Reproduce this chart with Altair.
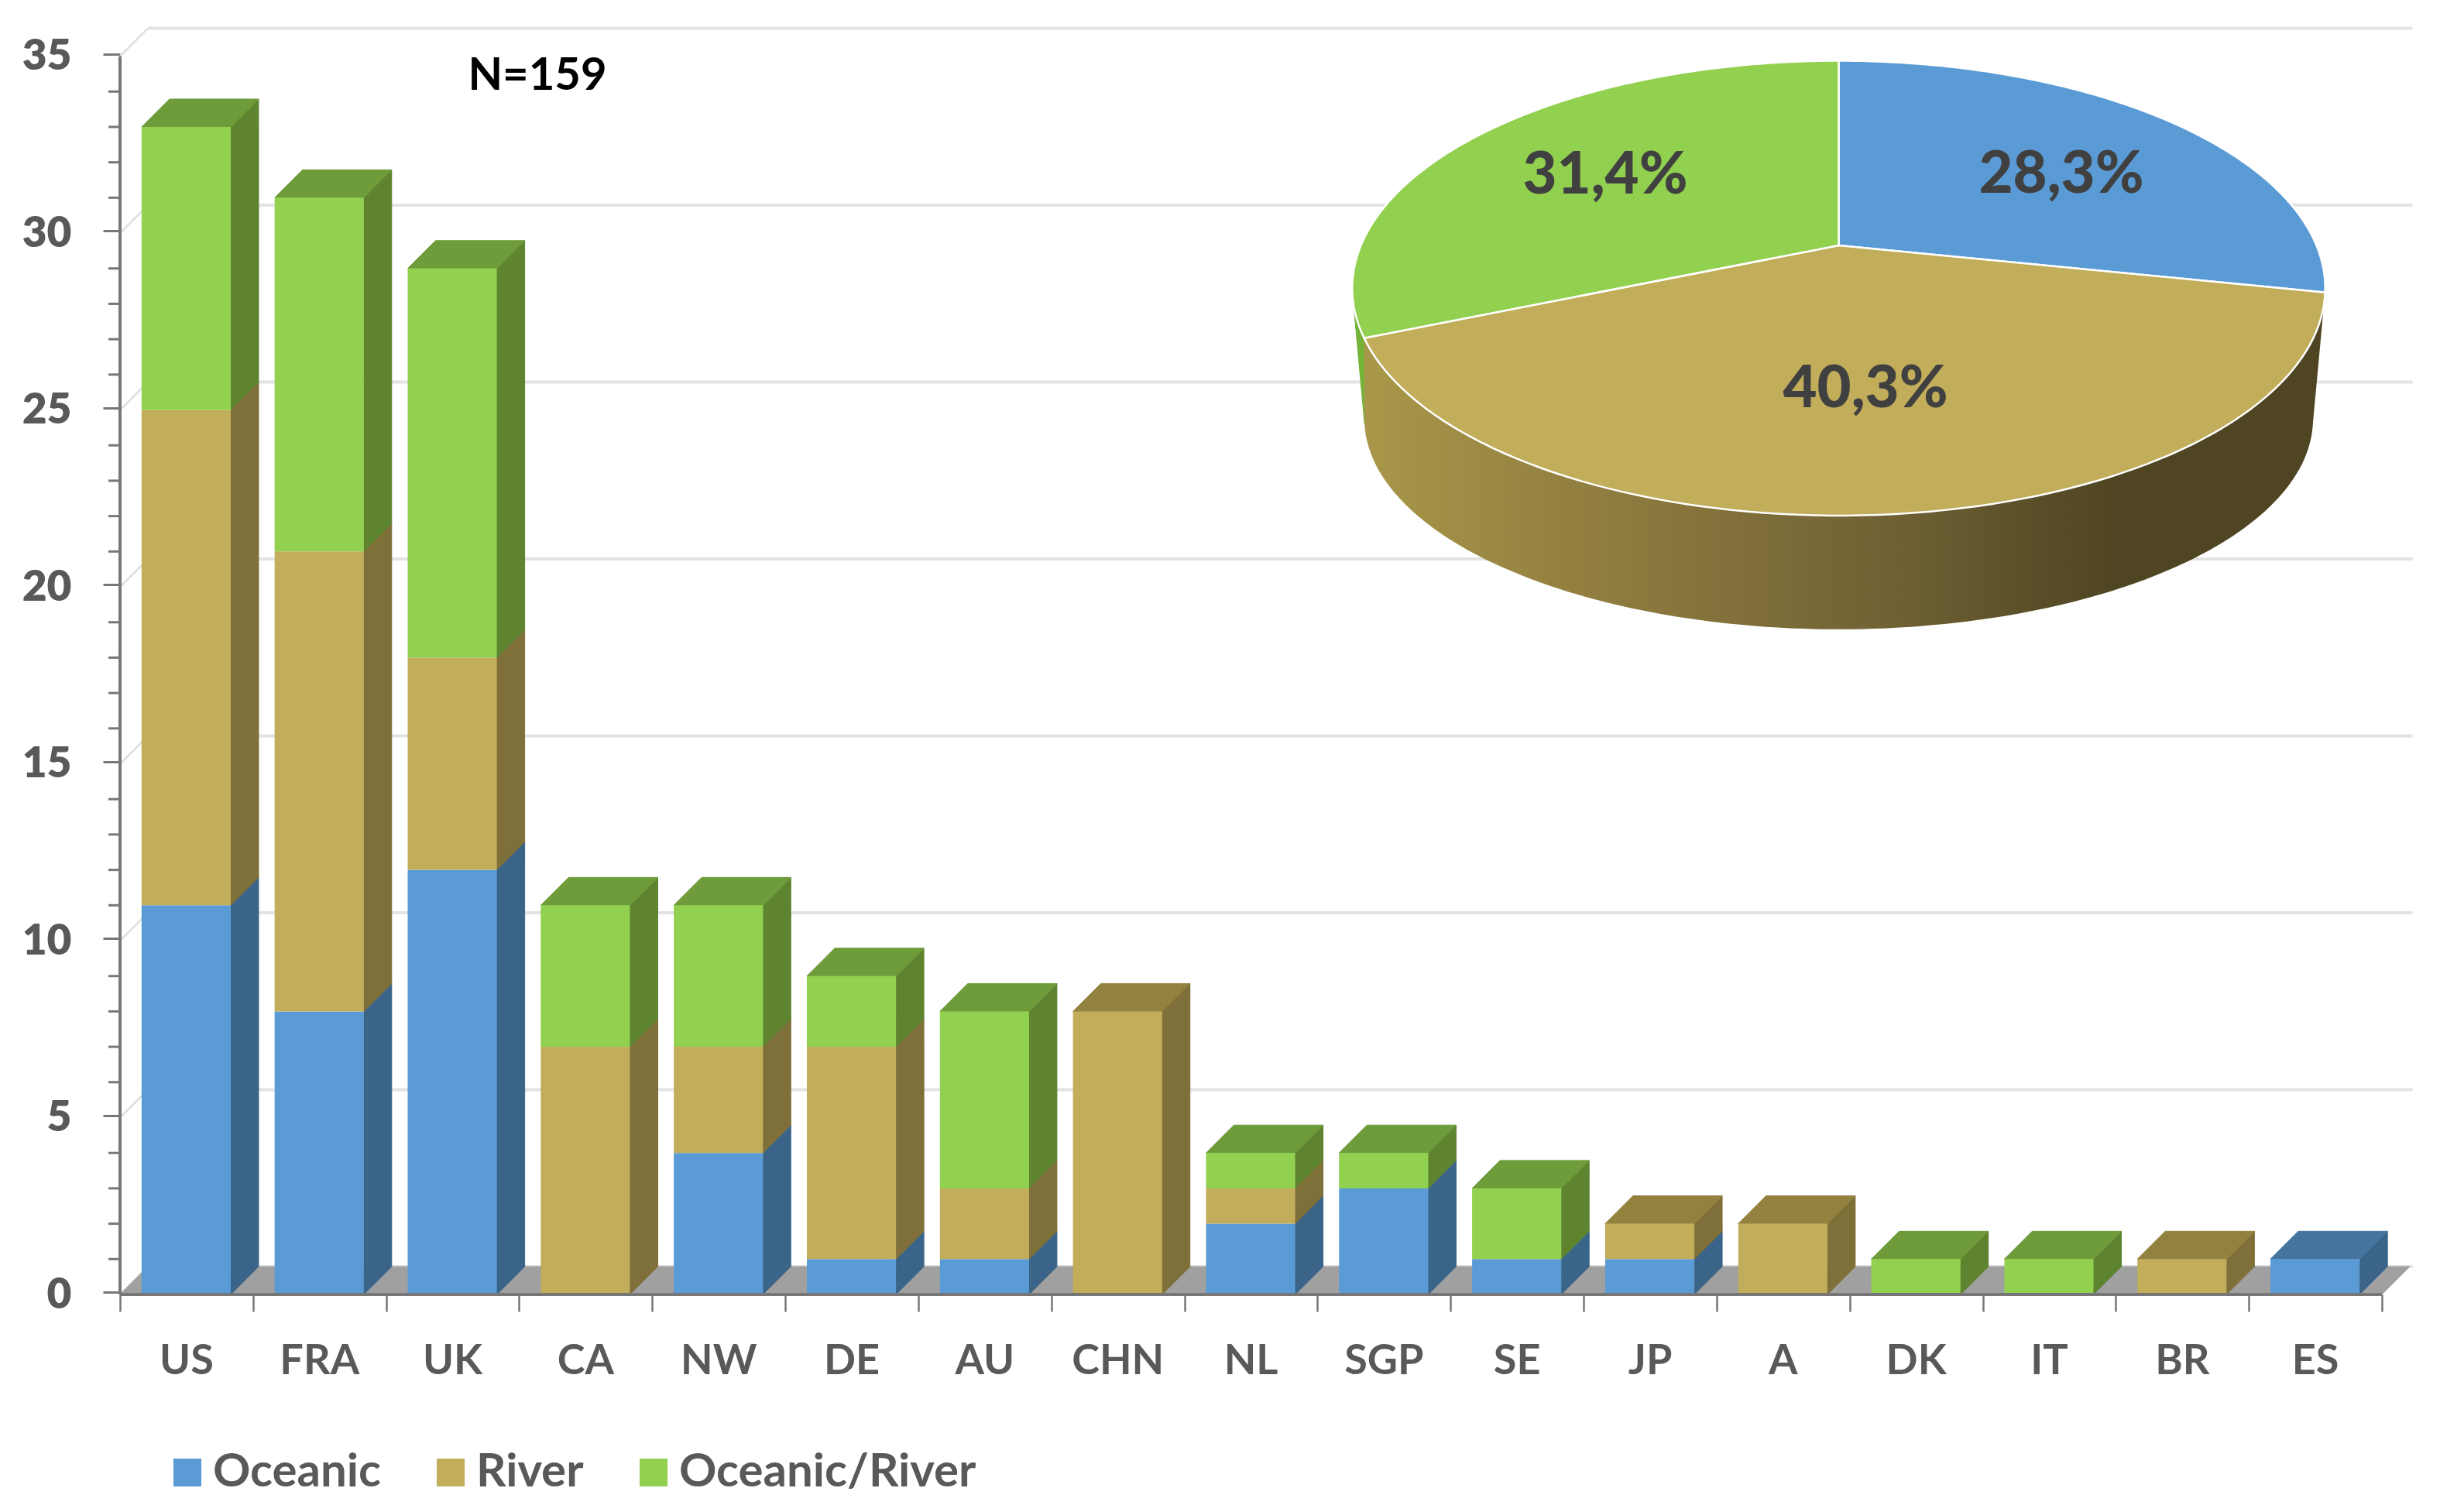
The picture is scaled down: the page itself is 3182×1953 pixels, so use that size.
import math
import altair as alt
import pandas as pd

countries = ["US","FRA","UK","CA","NW","DE","AU","CHN","NL","SGP","SE","JP","A","DK","IT","BR","ES"]
oceanic   = [11,8,12,0,4,1,1,0,2,3,1,1,0,0,0,0,1]
river     = [14,13,6,7,3,6,2,8,1,0,0,1,2,0,0,1,0]
both      = [8,10,11,4,4,2,5,0,1,1,2,0,0,1,1,0,0]
series_names = ["Oceanic","River","Oceanic/River"]
pie_shares = [28.3,40.3,31.4]
pie_labels = ["28,3%","40,3%","31,4%"]
y_major = [0,5,10,15,20,25,30,35]
y_minor = [v for v in range(36) if v % 5]

FRONT = ["#5b9bd5","#c2ad5b","#92d050"]
SIDE  = ["#3a6488","#7f6f38","#5e8430"]
TOP   = ["#45759f","#93813f","#6f9c3b"]
GRID, AXIS, TXT = "#e3e3e3", "#777777", "#595959"
FONT = "Lato"

W, H = 2964, 1636
XMAX, YMAX = 17.25, 35.8
ux, uy = W/XMAX, H/YMAX
X0, Y0 = 155, 1672            # pixel of data origin in the reference
DX, DY = 36/ux, 36/uy         # depth of the 3-D extrusion in data units
BAR_L, BAR_W = 0.162, 0.67

def to_x(px): return (px-X0)/ux
def to_y(py): return (Y0-py)/uy

xs = alt.Scale(domain=[0,XMAX], nice=False)
ys = alt.Scale(domain=[0,YMAX], nice=False)

# ---- stacked segments -------------------------------------------------
rows, faces = [], []
def poly(store, pid, pts, color):
    pts = list(pts)+[pts[0]]
    for k,(a,b) in enumerate(pts):
        store.append(dict(pid=pid, ord=k, px=a, py=b, col=color))

for i,c in enumerate(countries):
    base = 0
    vals = [oceanic[i], river[i], both[i]]
    last = max(j for j,v in enumerate(vals) if v>0)
    l, r = i+BAR_L, i+BAR_L+BAR_W
    for j,v in enumerate(vals):
        if v == 0: continue
        top = base+v
        rows.append(dict(country=c, series=series_names[j], x=l, x2=r, y=base, y2=top))
        poly(faces, f"s{i}{j}", [(r,base),(r+DX,base+DY),(r+DX,top+DY),(r,top)], SIDE[j])
        if j == last:
            poly(faces, f"t{i}{j}", [(l,top),(r,top),(r+DX,top+DY),(l+DX,top+DY)], TOP[j])
        base = top
bars = pd.DataFrame(rows)

def polys(data, **kw):
    return alt.Chart(pd.DataFrame(data)).mark_line(strokeWidth=1, **kw).encode(
        x=alt.X("px:Q", scale=xs, axis=None),
        y=alt.Y("py:Q", scale=ys, axis=None),
        detail="pid:N", order="ord:Q",
        fill=alt.Fill("col:N", scale=None, legend=None),
        stroke=alt.Stroke("col:N", scale=None, legend=None))

# ---- walls, floor, axes ----------------------------------------------
floor = []
poly(floor, "floor", [(0,0),(17,0),(17+DX,DY),(DX,DY)], "#a0a0a0")

grid_df = pd.DataFrame(dict(v=y_major))
grid_df["a"] = DX; grid_df["b"] = 17.23; grid_df["yy"] = grid_df.v+DY; grid_df["z"] = 0.0

axis_x = alt.Chart(grid_df).mark_rule(color=GRID, strokeWidth=4).encode(
    x=alt.X("a:Q", scale=xs, axis=alt.Axis(values=list(range(18)), labels=False, title=None, domain=False,
            grid=False, tickSize=22, tickWidth=2.5, tickColor=AXIS)),
    x2="b:Q",
    y=alt.Y("yy:Q", scale=ys, axis=None))

axis_y = alt.Chart(pd.DataFrame(dict(v=y_major))).mark_rule(opacity=0).encode(
    y=alt.Y("v:Q", scale=ys, axis=alt.Axis(values=y_major, title=None, domain=False, grid=False, tickSize=22,
            tickWidth=3, tickColor=AXIS, labelFont=FONT, labelFontWeight=800, labelFontSize=55,
            labelColor=TXT, labelPadding=41, labelOffset=3, tickOffset=-3)))

diag = alt.Chart(grid_df).mark_rule(color="#dedede", strokeWidth=2.5).encode(
    x=alt.X("z:Q", scale=xs, axis=None), x2="a:Q",
    y=alt.Y("v:Q", scale=ys, axis=None), y2="yy:Q")

minor = alt.Chart(pd.DataFrame(dict(v=y_minor))).mark_rule(color=AXIS, strokeWidth=3).encode(
    x=alt.value(-15), x2=alt.value(0), y=alt.Y("v:Q", scale=ys, axis=None))

front = alt.Chart(bars).mark_bar().encode(
    x=alt.X("x:Q", scale=xs, axis=None), x2="x2:Q",
    y=alt.Y("y:Q", scale=ys, axis=None), y2="y2:Q",
    color=alt.Color("series:N", scale=alt.Scale(domain=series_names, range=FRONT),
        legend=alt.Legend(orient="none", legendX=57, legendY=1836, direction="horizontal", columns=3,
            title=None, symbolType="square", symbolSize=1300, symbolStrokeWidth=0, labelFont=FONT,
            labelFontWeight="bold", labelFontSize=60, labelColor=TXT, labelOffset=3,
            columnPadding=60, padding=0, labelLimit=800)))

ax_df = pd.DataFrame([dict(a=0,b=17,c=0,d=0),dict(a=0,b=0,c=0,d=35)])
axis_lines = alt.Chart(ax_df).mark_rule(color=AXIS, strokeWidth=4).encode(
    x=alt.X("a:Q", scale=xs, axis=None), x2="b:Q",
    y=alt.Y("c:Q", scale=ys, axis=None), y2="d:Q")

lab_df = pd.DataFrame(dict(c=countries, x=[i+0.5 for i in range(17)]))
xlabels = alt.Chart(lab_df).mark_text(font=FONT, fontWeight="bold", fontSize=54, color=TXT, baseline="middle").encode(
    x=alt.X("x:Q", scale=xs, axis=None), y=alt.value(1759-36), text="c:N")

note = alt.Chart(pd.DataFrame(dict(t=["N=159"]))).mark_text(font=FONT, fontWeight="bold", fontSize=58, color="black",
        baseline="middle").encode(x=alt.value(694-155), y=alt.value(99-36), text="t:N")

# ---- perspective pie, slices derived from the shares -------------------
CX, CY, AX, BY, K = 2374.5, 317, 617.0, -223.74, 0.188
def top_pt(deg):
    t = math.radians(deg); s, c = math.sin(t), math.cos(t)
    d = 1+K*c
    return CX+AX*s/d, (CY+BY*c)/d
def low_pt(deg):
    a, b = top_pt(deg)
    return CX+(a-CX)*0.975, 540+(b-371)*0.925
def D(p): return (to_x(p[0]), to_y(p[1]))
def arc(fn, a, b, n=90):
    return [D(fn(a+(b-a)*k/n)) for k in range(n+1)]

cum = [0]
for s in pie_shares: cum.append(cum[-1]+s*3.6)

green_wall = []
poly(green_wall, "gw", arc(top_pt, cum[2], 255)+[D(low_pt(258))], "#74b238")
river_wall = []
poly(river_wall, "rw", arc(top_pt, cum[1], cum[2])+arc(low_pt, 258, 102, 180), "#000000")

tops = []
for j in range(3):
    poly(tops, f"p{j}", [D((CX,CY))]+arc(top_pt, cum[j], cum[j+1]), FRONT[j])

grad = alt.LinearGradient(gradient="linear", x1=0, x2=1, y1=0, y2=0, stops=[
    alt.GradientStop(color="#a99749", offset=0), alt.GradientStop(color="#8d7a3e", offset=0.27),
    alt.GradientStop(color="#6f6134", offset=0.55), alt.GradientStop(color="#4f4522", offset=0.78),
    alt.GradientStop(color="#4f4522", offset=1)])
rw = alt.Chart(pd.DataFrame(river_wall)).mark_line(fill=grad, strokeWidth=0).encode(
    x=alt.X("px:Q", scale=xs, axis=None), y=alt.Y("py:Q", scale=ys, axis=None), order="ord:Q")

tops_l = alt.Chart(pd.DataFrame(tops)).mark_line(stroke="white", strokeWidth=2.5).encode(
    x=alt.X("px:Q", scale=xs, axis=None), y=alt.Y("py:Q", scale=ys, axis=None),
    detail="pid:N", order="ord:Q", fill=alt.Fill("col:N", scale=None, legend=None))

pie_txt = pd.DataFrame(dict(t=pie_labels,
    px=[to_x(v) for v in [2662,2409,2073]], py=[to_y(v) for v in [226,503,227]]))
pie_text = alt.Chart(pie_txt).mark_text(font=FONT, fontWeight=900, fontSize=76, color="#404040", baseline="middle").encode(
    x=alt.X("px:Q", scale=xs, axis=None), y=alt.Y("py:Q", scale=ys, axis=None), text="t:N")

chart = alt.layer(axis_x, axis_y, diag, polys(floor), polys(faces), front, minor, axis_lines, xlabels, note,
                  polys(green_wall), rw, tops_l, pie_text).resolve_axis(x="independent", y="independent").properties(
    width=W, height=H,
    padding={"left":147,"top":28,"right":50,"bottom":265},
    autosize=alt.AutoSizeParams(type="none"),
    background="white"
).configure_view(stroke=None)

chart.save("out.html", embed_options={"renderer":"svg","actions":False})
